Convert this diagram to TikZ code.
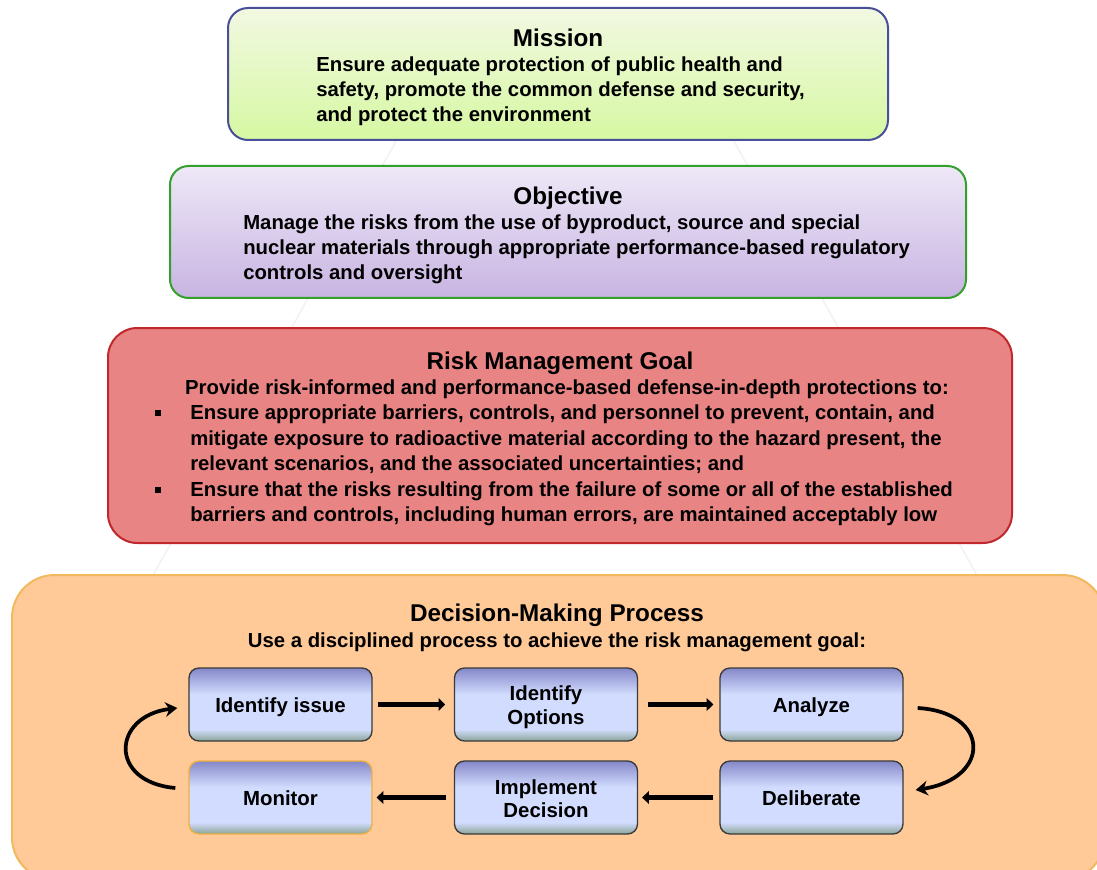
\documentclass[tikz,border=0pt]{standalone}
\usepackage{fontspec}
\setmainfont{Liberation Sans}
\usetikzlibrary{arrows.meta,calc}
\definecolor{misborder}{HTML}{4A4F9A}
\definecolor{mistop}{HTML}{F2F8E2}
\definecolor{misbot}{HTML}{D6F8A2}
\definecolor{objborder}{HTML}{33A02C}
\definecolor{objtop}{HTML}{EEE8F7}
\definecolor{objbot}{HTML}{C8B4E2}
\definecolor{riskborder}{HTML}{C0282C}
\definecolor{riskfill}{HTML}{E88483}
\definecolor{decborder}{HTML}{F2B95E}
\definecolor{decfill}{HTML}{FFC998}
\definecolor{ptop}{HTML}{8488C8}
\definecolor{pmid}{HTML}{D2DCFE}
\definecolor{pbot}{HTML}{8AA496}
\definecolor{pborder}{HTML}{3A3A3A}
\definecolor{monborder}{HTML}{F0B040}
\definecolor{pyr}{HTML}{F2F2F2}
\pgfdeclareverticalshading{procshade}{100bp}{color(0bp)=(pbot); color(25bp)=(pbot); color(33bp)=(pmid); color(57bp)=(pmid); color(75bp)=(ptop); color(100bp)=(ptop)}
\tikzset{
  bigbox/.style={rectangle, line width=1.5pt, inner sep=0pt},
  ttl/.style={font=\bfseries\fontsize{18.2}{22}\selectfont, anchor=base, inner sep=0pt},
  bodyl/.style={font=\bfseries\fontsize{15.25}{18.75}\selectfont, anchor=base west, inner sep=0pt},
  bodyc/.style={font=\bfseries\fontsize{15.25}{18.75}\selectfont, anchor=base, inner sep=0pt},
  proc/.style={rectangle, rounded corners=7.5pt, draw=pborder, line width=1pt, shading=procshade,
    minimum width=137.25pt, minimum height=54.75pt, inner sep=0pt},
  ptext/.style={font=\bfseries\fontsize{15.3}{18}\selectfont, anchor=base, inner sep=0pt},
  flow/.style={line width=3.5pt, -{Triangle[length=5pt,width=9.5pt]}},
  loop/.style={line width=2.8pt, -{Stealth[length=9pt,width=11pt]}},
  bullet/.style={fill=black, minimum size=4.5pt, inner sep=0pt, rectangle}
}
\begin{document}
\begin{tikzpicture}[x=0.75pt,y=-0.75pt]
\useasboundingbox (0,0) rectangle (1097,870);
\clip (0,0) rectangle (1097,870);
\fill[white] (0,0) rectangle (1097,870);
% faint pyramid
\draw[pyr, line width=1.1pt] (396.7,140) -- (150.3,580);
\draw[pyr, line width=1.1pt] (733.3,140) -- (979.7,580);

% main boxes
\node[bigbox, draw=misborder, top color=mistop, bottom color=misbot, rounded corners=15pt,
  minimum width=495pt, minimum height=99pt] (mission) at (558,74) {};
\node[bigbox, draw=objborder, top color=objtop, bottom color=objbot, rounded corners=14pt,
  minimum width=597pt, minimum height=99pt] (objective) at (568,232) {};
\node[bigbox, draw=riskborder, fill=riskfill, rounded corners=22pt,
  minimum width=678pt, minimum height=161.25pt] (risk) at (560,435.5) {};
\node[bigbox, draw=decborder, fill=decfill, rounded corners=32pt,
  minimum width=819.75pt, minimum height=228.75pt] (decision) at (558.5,727.5) {};

% mission text
\node[ttl] (mt) at (558,47) {Mission};
\node[bodyl] (m1) at (316,72) {Ensure adequate protection of public health and};
\node[bodyl] (m2) at (316,97) {safety, promote the common defense and security,};
\node[bodyl] (m3) at (316,122) {and protect the environment};

% objective text
\node[ttl] (ot) at (568,205) {Objective};
\node[bodyl] (o1) at (243,230) {Manage the risks from the use of byproduct, source and special};
\node[bodyl] (o2) at (243,255) {nuclear materials through appropriate performance-based regulatory};
\node[bodyl] (o3) at (243,280) {controls and oversight};

% risk text
\node[ttl] (rt) at (560,369) {Risk Management Goal};
\node[bodyc] (r0) at (567,394) {Provide risk-informed and performance-based defense-in-depth protections to:};
\node[bullet] (b1) at (158,413) {};
\node[bodyl] (r1) at (190,419) {Ensure appropriate barriers, controls, and personnel to prevent, contain, and};
\node[bodyl] (r2) at (190,445) {mitigate exposure to radioactive material according to the hazard present, the};
\node[bodyl] (r3) at (190,470) {relevant scenarios, and the associated uncertainties; and};
\node[bullet] (b2) at (158,490) {};
\node[bodyl] (r4) at (190,496) {Ensure that the risks resulting from the failure of some or all of the established};
\node[bodyl] (r5) at (190,521) {barriers and controls, including human errors, are maintained acceptably low};

% decision text
\node[ttl] (dt) at (557,621) {Decision-Making Process};
\node[bodyc] (d0) at (557,647) {Use a disciplined process to achieve the risk management goal:};

% process boxes
\node[proc] (ii) at (280.5,704.5) {};
\node[proc] (io) at (546,704.5) {};
\node[proc] (an) at (811.5,704.5) {};
\node[proc, draw=monborder] (mo) at (280.5,797.5) {};
\node[proc] (im) at (546,797.5) {};
\node[proc] (de) at (811.5,797.5) {};
\node[ptext] (tii) at (280.5,712) {Identify issue};
\node[ptext] (tio1) at (546,700) {Identify};
\node[ptext] (tio2) at (546,724) {Options};
\node[ptext] (tan) at (811.5,712) {Analyze};
\node[ptext] (tmo) at (280.5,805) {Monitor};
\node[ptext] (tim1) at (546,794) {Implement};
\node[ptext] (tim2) at (546,817) {Decision};
\node[ptext] (tde) at (811.5,805) {Deliberate};

% arrows
\draw[flow, shorten <=4pt, shorten >=6.5pt] (ii.east) -- (io.west);
\draw[flow, shorten <=7.5pt, shorten >=4.5pt] (io.east) -- (an.west);
\draw[flow, shorten <=5pt, shorten >=3pt] (de.west) -- (im.east);
\draw[flow, shorten <=6pt, shorten >=3pt] (im.west) -- (mo.east);
\coordinate (ra) at ($(an.east)+(14,3.5)$);
\coordinate (rb) at ($(de.east)+(12,-7.5)$);
\draw[loop] (ra) .. controls (990,712) and (992,778) .. (rb);
\coordinate (la) at ($(mo.west)+(-13,-9.5)$);
\coordinate (lb) at ($(ii.west)+(-11,3.5)$);
\draw[loop] (la) .. controls (108,782) and (112,716) .. (lb);
\end{tikzpicture}
\end{document}
